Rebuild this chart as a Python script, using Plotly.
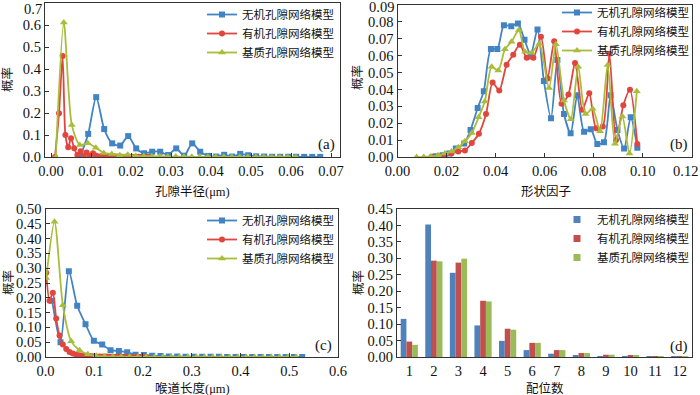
import plotly.graph_objects as go
from plotly.subplots import make_subplots

# ---- (a) pore radius distribution ----
a_blue_x = [0.0073, 0.0093, 0.0113, 0.0133, 0.0153, 0.0173, 0.0193, 0.0213, 0.0233, 0.0253,
            0.0273, 0.0293, 0.0313, 0.0333, 0.0353, 0.0373, 0.0393, 0.0413, 0.0433, 0.0453,
            0.0473, 0.0493, 0.0513, 0.0533, 0.0553, 0.0573, 0.0593, 0.0613, 0.0633, 0.0653, 0.0673]
a_blue_y = [0.002, 0.105, 0.272, 0.127, 0.062, 0.052, 0.095, 0.039, 0.017, 0.024,
            0.024, 0.009, 0.039, 0.006, 0.062, 0.024, 0.005, 0.002, 0.010, 0.002,
            0.014, 0.008, 0.003, 0.002, 0.001, 0.001, 0.001, 0.001, 0.0005, 0.0005, 0.0005]
a_red_x = [0.0010, 0.0020, 0.0029, 0.0036, 0.0043, 0.0050, 0.0058, 0.0066, 0.0074, 0.0082,
           0.0089, 0.0097, 0.0105, 0.0112, 0.0120, 0.0128, 0.0135, 0.0143, 0.0151, 0.0158,
           0.0166, 0.0174, 0.0181, 0.0189, 0.0197, 0.0204, 0.0212, 0.0220, 0.0227, 0.0235,
           0.0243, 0.0250]
a_red_y = [0.0, 0.199, 0.459, 0.100, 0.044, 0.085, 0.040, 0.009, 0.026, 0.005,
           0.020, 0.005, 0.017, 0.007, 0.002, 0.006, 0.003, 0.004, 0.002, 0.003,
           0.002, 0.002, 0.001, 0.002, 0.001, 0.001, 0.001, 0.001, 0.0005, 0.0005,
           0.0005, 0.0003]
a_green_x = [0.0012, 0.0032, 0.0052, 0.0072, 0.0092, 0.0112, 0.0132, 0.0152, 0.0172, 0.0192,
             0.0212, 0.0232, 0.0252, 0.0272, 0.0292, 0.0312, 0.0332, 0.0352, 0.0372, 0.0392,
             0.0412, 0.0432, 0.0452, 0.0472, 0.0492, 0.0512, 0.0532, 0.0552, 0.0572, 0.0592, 0.0612]
a_green_y = [0.0, 0.612, 0.145, 0.055, 0.063, 0.042, 0.018, 0.014, 0.008, 0.010,
             0.005, 0.004, 0.003, 0.003, 0.002, 0.002, 0.002, 0.001, 0.001, 0.001,
             0.001, 0.001, 0.0005, 0.0005, 0.0005, 0.0005, 0.0005, 0.0003, 0.0003, 0.0003, 0.0003]

# ---- (b) shape factor distribution ----
b_blue_x = [0.0156, 0.0184, 0.0211, 0.0238, 0.0272, 0.0298, 0.0327, 0.0352, 0.0381, 0.0407,
            0.0434, 0.0464, 0.0491, 0.0518, 0.0543, 0.0571, 0.0597, 0.0626, 0.0652, 0.0679,
            0.0706, 0.0733, 0.0761, 0.0788, 0.0815, 0.0842, 0.0869, 0.0897, 0.0924, 0.0951, 0.0978]
b_blue_y = [0.0005, 0.001, 0.002, 0.005, 0.008, 0.016, 0.029, 0.039, 0.064, 0.064,
            0.078, 0.0775, 0.079, 0.0695, 0.0605, 0.0755, 0.045, 0.023, 0.0575, 0.0255,
            0.014, 0.0365, 0.015, 0.0165, 0.0077, 0.0087, 0.0365, 0.016, 0.005, 0.0235, 0.0055]
b_red_x = [0.0139, 0.0166, 0.0193, 0.0220, 0.0248, 0.0275, 0.0303, 0.0332, 0.0361, 0.0388,
           0.0415, 0.0445, 0.0472, 0.0499, 0.0527, 0.0554, 0.0585, 0.0612, 0.0639, 0.0669,
           0.0697, 0.0724, 0.0754, 0.0782, 0.0810, 0.0837, 0.0864, 0.0891, 0.0921, 0.0948, 0.0978]
b_red_y = [0.0002, 0.0004, 0.0008, 0.002, 0.0033, 0.0039, 0.0083, 0.0138, 0.0254, 0.0441,
           0.0394, 0.0547, 0.0606, 0.0665, 0.0587, 0.0587, 0.0712, 0.0465, 0.0685, 0.0315,
           0.037, 0.0557, 0.028, 0.0378, 0.017, 0.018, 0.0612, 0.010, 0.0307, 0.0398, 0.0077]
b_green_x = [0.0078, 0.0107, 0.0136, 0.0165, 0.0193, 0.0220, 0.0248, 0.0275, 0.0303, 0.0331,
             0.0356, 0.0384, 0.0411, 0.0438, 0.0465, 0.0495, 0.0520, 0.0547, 0.0578, 0.0618,
             0.0646, 0.0679, 0.0707, 0.0737, 0.0767, 0.0796, 0.0826, 0.0857, 0.0887, 0.0917,
             0.0946, 0.0976]
b_green_y = [0.0, 0.0, 0.0003, 0.001, 0.002, 0.0033, 0.0057, 0.0093, 0.0142, 0.0236,
             0.0329, 0.0534, 0.0512, 0.0638, 0.0683, 0.0752, 0.0624, 0.0618, 0.0670, 0.0408,
             0.0668, 0.0335, 0.0224, 0.0535, 0.0254, 0.0286, 0.0152, 0.0545, 0.0079, 0.0240,
             0.0020, 0.0390]

# ---- (c) throat length distribution ----
c_blue_x = [0.0137, 0.0308, 0.0479, 0.0650, 0.0821, 0.0992, 0.1163, 0.1334, 0.1505, 0.1676,
            0.1847, 0.2018, 0.2189, 0.2360, 0.2531, 0.2702, 0.2873, 0.3044, 0.3215, 0.3386,
            0.3557, 0.3728, 0.3899, 0.4070, 0.4241, 0.4412, 0.4583, 0.4754, 0.4925, 0.5096, 0.5267]
c_blue_y = [0.19, 0.05, 0.29, 0.173, 0.111, 0.055, 0.042, 0.023, 0.020, 0.016,
            0.008, 0.007, 0.004, 0.003, 0.002, 0.0015, 0.001, 0.001, 0.0008, 0.0006,
            0.0005, 0.0004, 0.0003, 0.0003, 0.0002, 0.0002, 0.0001, 0.0001, 0.0001, 0.0001, 0.0001]
c_red_x = [0.0014, 0.0082, 0.0151, 0.0219, 0.0288, 0.0356, 0.0425, 0.0493, 0.0562, 0.0630,
           0.0699, 0.0767, 0.0836, 0.0904, 0.0973, 0.1041, 0.1110, 0.1178, 0.1247, 0.1315,
           0.1384, 0.1452, 0.1521, 0.1589, 0.1658, 0.1726, 0.1795, 0.1863, 0.1932, 0.2000, 0.2069]
c_red_y = [0.285, 0.190, 0.217, 0.130, 0.073, 0.042, 0.027, 0.017, 0.012, 0.008,
           0.006, 0.005, 0.004, 0.003, 0.0025, 0.002, 0.002, 0.0015, 0.0015, 0.001,
           0.001, 0.001, 0.0008, 0.0006, 0.0005, 0.0004, 0.0003, 0.0002, 0.0002, 0.0001, 0.0001]
c_green_x = [0.0014, 0.0185, 0.0356, 0.0527, 0.0698, 0.0869, 0.1040, 0.1211, 0.1382, 0.1553,
             0.1724, 0.1895, 0.2066, 0.2237, 0.2408, 0.2579, 0.2750, 0.2921, 0.3092, 0.3263,
             0.3434, 0.3605, 0.3776, 0.3947, 0.4118, 0.4289, 0.4460, 0.4631, 0.4802, 0.4973, 0.5144]
c_green_y = [0.267, 0.457, 0.175, 0.053, 0.023, 0.009, 0.004, 0.002, 0.001, 0.0008,
             0.0005, 0.0004, 0.0003, 0.0002, 0.0002, 0.0001, 0.0001, 0.0001, 0.0, 0.0,
             0.0, 0.0, 0.0, 0.0, 0.0, 0.0, 0.0, 0.0, 0.0, 0.0, 0.0]

# ---- (d) coordination number ----
coord_num = [1, 2, 3, 4, 5, 6, 7, 8, 9, 10, 11, 12]
d_blue = [0.116, 0.403, 0.256, 0.096, 0.049, 0.021, 0.010, 0.005, 0.002, 0.001, 0.0005, 0.0002]
d_red = [0.047, 0.293, 0.287, 0.171, 0.086, 0.043, 0.021, 0.012, 0.007, 0.004, 0.002, 0.001]
d_green = [0.037, 0.291, 0.299, 0.169, 0.083, 0.043, 0.021, 0.012, 0.007, 0.004, 0.002, 0.0005]

# tick values; the labels that sit on a frame edge at the border of the picture
# ("0.7", "0.09", "0.12") are written as annotations nudged inward so they aren't clipped
a_yticks = [0.0, 0.1, 0.2, 0.3, 0.4, 0.5, 0.6]
b_yticks = [0.0, 0.01, 0.02, 0.03, 0.04, 0.05, 0.06, 0.07, 0.08]
b_xticks = [0.0, 0.02, 0.04, 0.06, 0.08, 0.10]

names = ["无机孔隙网络模型", "有机孔隙网络模型", "基质孔隙网络模型"]
line_colors = ["#4283c4", "#e0463d", "#a9bd3b"]
bar_colors = ["#4f81bd", "#c0504d", "#9bbb59"]
symbols = ["square", "circle", "triangle-up"]
marker_sizes = [6, 6, 7]

FONT = '"Liberation Serif", "Noto Sans CJK SC", serif'
W, H = 700, 395
TICK_SIZE = 14.5


def px_x(p):
    return p / W


def px_y(p):
    return 1 - p / H


fig = make_subplots(rows=2, cols=2)

line_sets = [
    (1, 1, "legend", [(a_blue_x, a_blue_y), (a_red_x, a_red_y), (a_green_x, a_green_y)]),
    (1, 2, "legend2", [(b_blue_x, b_blue_y), (b_red_x, b_red_y), (b_green_x, b_green_y)]),
    (2, 1, "legend3", [(c_blue_x, c_blue_y), (c_red_x, c_red_y), (c_green_x, c_green_y)]),
]
for row, col, leg, series in line_sets:
    for i, (xs, ys) in enumerate(series):
        fig.add_trace(go.Scatter(
            x=xs, y=ys, name=names[i], mode="lines+markers", legend=leg,
            line=dict(color=line_colors[i], width=1.8, shape="spline", smoothing=0.7),
            marker=dict(symbol=symbols[i], size=marker_sizes[i], color=line_colors[i]),
        ), row=row, col=col)

for i, vals in enumerate([d_blue, d_red, d_green]):
    fig.add_trace(go.Bar(x=coord_num, y=vals, name=names[i], showlegend=False,
                         marker=dict(color=bar_colors[i], line_width=0)), row=2, col=2)
    # legend-only entry: small square swatch like the reference
    fig.add_trace(go.Scatter(x=[None], y=[None], name=names[i], mode="markers",
                             legend="legend4",
                             marker=dict(symbol="square", size=7, color=bar_colors[i])),
                  row=2, col=2)

axis_common = dict(showline=True, linecolor="#333333", linewidth=1.3, mirror=True,
                   showgrid=False, zeroline=False, ticks="inside", ticklen=4,
                   tickcolor="#333333", automargin=False, ticklabeloverflow="allow",
                   tickfont=dict(family=FONT, size=TICK_SIZE, color="#111111"))

fig.update_layout(
    xaxis=dict(domain=[px_x(45), px_x(340)], range=[-0.0015, 0.07225], dtick=0.01,
               tickformat=".2f", **axis_common),
    yaxis=dict(domain=[px_y(157), px_y(3)], range=[0, 0.7001], tickvals=a_yticks,
               tickformat=".1f", **axis_common),
    xaxis2=dict(domain=[px_x(397.5), px_x(692)], range=[0, 0.1201], tickvals=b_xticks,
                tickformat=".2f", **axis_common),
    yaxis2=dict(domain=[px_y(157), px_y(5)], range=[0, 0.09001], tickvals=b_yticks,
                tickformat=".2f", **axis_common),
    xaxis3=dict(domain=[px_x(45.5), px_x(338)], range=[0, 0.6001], dtick=0.1, tickformat=".1f",
                **axis_common),
    yaxis3=dict(domain=[px_y(357), px_y(209)], range=[0, 0.5001], dtick=0.05, tickformat=".2f",
                **axis_common),
    xaxis4=dict(domain=[px_x(397), px_x(692)], range=[0.5, 12.5], dtick=1,
                **{**axis_common, "ticks": ""}),
    yaxis4=dict(domain=[px_y(357), px_y(209)], range=[0, 0.4501], dtick=0.05, tickformat=".2f",
                **axis_common),
    barmode="group", bargap=0.3, bargroupgap=0,
    width=W, height=H, margin=dict(l=0, r=0, t=0, b=0, autoexpand=False),
    paper_bgcolor="white", plot_bgcolor="white",
    font=dict(family=FONT, color="#111111"),
)

leg_common = dict(xanchor="right", yanchor="top", bgcolor="rgba(0,0,0,0)",
                  font=dict(family=FONT, size=11.5, color="#111111"), itemwidth=30,
                  tracegroupgap=0)
fig.update_layout(
    legend=dict(x=px_x(339), y=px_y(0), **leg_common),
    legend2=dict(x=px_x(694), y=px_y(-2), **leg_common),
    legend3=dict(x=px_x(339), y=px_y(206), **leg_common),
    legend4=dict(x=px_x(694), y=px_y(205), **leg_common),
)

title_font = dict(family=FONT, size=12.5, color="#111111")
annotations = [
    ("孔隙半径(μm)", 192, 192, 0), ("形状因子", 546, 192, 0),
    ("喉道长度(μm)", 192, 388, 0), ("配位数", 545, 388, 0),
    ("概率", 8, 80, -90), ("概率", 358, 78, -90),
    ("概率", 8, 283, -90), ("概率", 358, 283, -90),
]
for text, x, y, ang in annotations:
    fig.add_annotation(text=text, x=px_x(x), y=px_y(y), xref="paper", yref="paper",
                       showarrow=False, textangle=ang, font=title_font,
                       xanchor="center", yanchor="middle")

for text, x, y in [("(a)", 337, 145), ("(b)", 690, 145), ("(c)", 334, 345), ("(d)", 690, 346)]:
    fig.add_annotation(text=text, x=px_x(x), y=px_y(y), xref="paper", yref="paper",
                       showarrow=False, font=dict(family=FONT, size=15, color="#111111"),
                       xanchor="right", yanchor="middle")

# edge labels of (a) and (b)
for text, x, y in [("0.7", 42.5, 9), ("0.09", 394.5, 7), ("0.12", 699, 171)]:
    fig.add_annotation(text=text, x=px_x(x), y=px_y(y), xref="paper", yref="paper",
                       showarrow=False, borderpad=0,
                       font=dict(family=FONT, size=TICK_SIZE, color="#111111"),
                       xanchor="right", yanchor="middle")

# the page's default 8px body margin would push the fixed-size figure off the window
fig.write_html("out.html", config={"displayModeBar": False},
               post_script="document.body.style.margin = '0';")
